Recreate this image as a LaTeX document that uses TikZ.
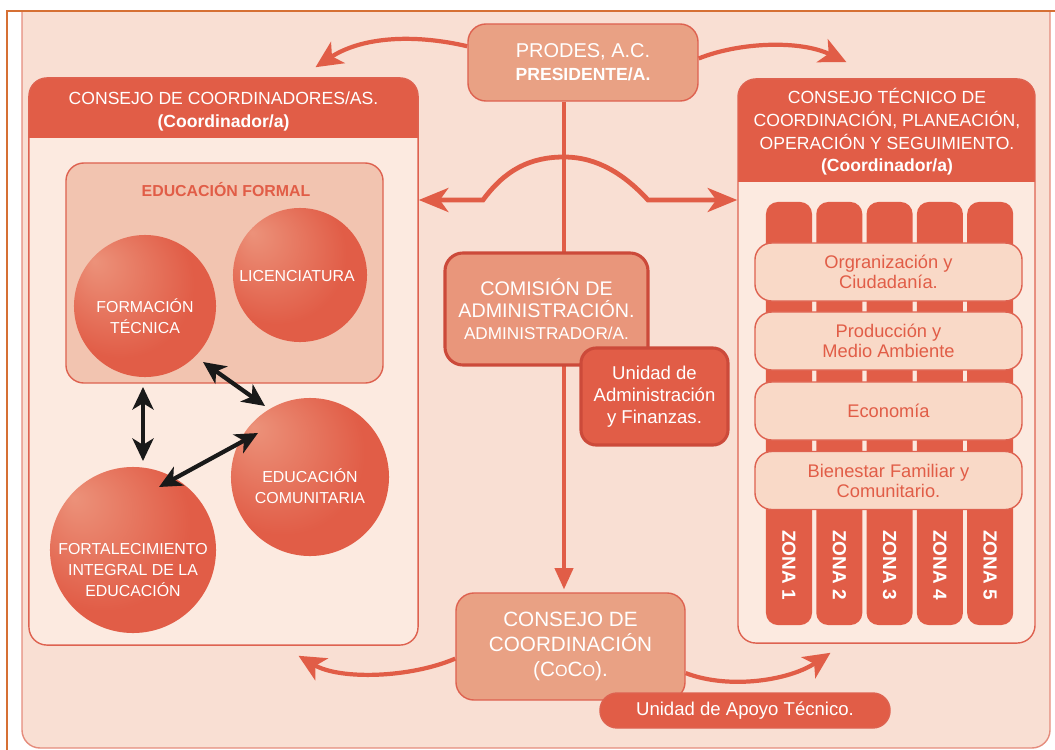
\documentclass[tikz,border=0pt]{standalone}
\usepackage{fontspec}
\setmainfont{Liberation Sans}
\usepackage{tikz}
\usetikzlibrary{calc,positioning,arrows.meta}

\definecolor{frame}{RGB}{214,112,52}
\definecolor{peach}{RGB}{249,223,211}
\definecolor{pinkline}{RGB}{229,140,124}
\definecolor{body}{RGB}{252,234,224}
\definecolor{redor}{RGB}{225,93,71}
\definecolor{salm}{RGB}{233,161,132}
\definecolor{comis}{RGB}{233,150,123}
\definecolor{formal}{RGB}{242,196,176}
\definecolor{barfill}{RGB}{249,217,199}
\definecolor{edge}{RGB}{222,98,80}
\definecolor{dkedge}{RGB}{204,74,58}
\definecolor{sphhi}{RGB}{236,146,122}

\pgfdeclareradialshading{sphere}{\pgfpoint{-18bp}{16bp}}{color(0bp)=(sphhi); color(26bp)=(redor); color(50bp)=(redor)}

\newcommand{\fs}[2]{\fontsize{#1}{#2}\selectfont}

\begin{document}
\begin{tikzpicture}[x=0.025cm, y=-0.025cm]
\tikzstyle{box}=[draw=edge, line width=1pt, fill=salm, rounded corners=0.45cm, text=white, align=center, inner sep=0pt]
\tikzstyle{boxdk}=[box, draw=dkedge, line width=2.2pt]
\tikzstyle{hdr}=[text=white, align=center, inner sep=0pt, font=\fs{12.5}{16.2}]
\tikzstyle{bar}=[draw=edge, line width=1pt, fill=barfill, rounded corners=0.42cm, text=redor, align=center, minimum width=6.675cm, minimum height=1.45cm, inner sep=0pt, font=\fs{13}{14.2}]
\tikzstyle{zone}=[fill=redor, rounded corners=0.3cm, minimum width=1.15cm, minimum height=10.575cm, inner sep=0pt]
\tikzstyle{zlbl}=[text=white, rotate=-90, font=\fs{13.5}{16}\bfseries, inner sep=0pt]
\tikzstyle{sph}=[circle, shading=sphere, inner sep=0pt]
\tikzstyle{ctxt}=[text=white, align=center, inner sep=0pt, font=\fs{11.3}{15.2}]
\tikzstyle{dbl}=[line width=3pt, black!90, >={Stealth[length=16pt,width=15pt,inset=4.5pt]}, <->]
\tikzstyle{curv}=[line width=3pt, redor, >={Stealth[length=19pt,width=18pt,inset=5pt]}, ->]
\tikzstyle{hump}=[line width=3.4pt, redor, >={Stealth[length=21pt,width=17pt,inset=6pt]}, <->]
\tikzstyle{spine}=[line width=2.2pt, redor, >={Triangle[length=15pt,width=13pt]}, ->]
\tikzset{panel/.style={draw=edge, line width=1pt, fill=body, rounded corners=0.45cm, inner sep=0pt,
  path picture={\fill[redor, sharp corners] (path picture bounding box.north west) rectangle ([yshift=-#1]path picture bounding box.north east);}}}

\useasboundingbox (0,0) rectangle (1055,750);
% background sheet
\begin{scope}
\clip (0,11) rectangle (1055,750);
\filldraw[fill=peach, draw=pinkline, line width=1pt, rounded corners=0.45cm] (22,-30) rectangle (1050,748);
\end{scope}
\draw[frame, line width=1.2pt] (7,770) -- (7,11) -- (1070,11);

% main boxes
\node[box, minimum width=5.75cm, minimum height=1.925cm, font=\fs{14.2}{16.4}] (prodes) at (583,62.5)
  {PRODES, A.C.\\\fs{12.5}{16.4}\bfseries PRESIDENTE/A.};
\node[panel=1.5cm, minimum width=9.725cm, minimum height=14.175cm] (cdc) at (223.5,361.5) {};
\node[panel=2.575cm, minimum width=7.425cm, minimum height=14.1cm] (ctc) at (886.5,361) {};
\node[box, minimum width=5.725cm, minimum height=2.675cm, font=\fs{14.7}{17.8}] (coco) at (570.5,646.5)
  {CONSEJO DE\\COORDINACIÓN\\(C{\fs{11.5}{17.8}O}C{\fs{11.5}{17.8}O}).};
\node[box, fill=redor, rounded corners=0.43cm, minimum width=7.25cm, minimum height=0.875cm, font=\fs{13.2}{15}] (apoyo) at (745,710.5) {Unidad de Apoyo Técnico.};

% spine and hump
\draw[spine] ($(prodes.south)+(-19,0)$) -- ($(coco.north)+(-6.5,-3)$);
\draw[hump] (cdc.east |- 0,200) -- (483,200) .. controls (505,170) and (530,157) .. (564,157)
  .. controls (598,157) and (625,175) .. (648,200) -- (ctc.west |- 0,200);

\node[boxdk, fill=comis, minimum width=5.075cm, minimum height=2.8cm, font=\fs{14}{15.6}] (comision) at (546.5,309)
  {COMISIÓN DE\\ADMINISTRACIÓN.\\\fs{12.2}{15.6}ADMINISTRADOR/A.};
\node[boxdk, fill=redor, rounded corners=0.38cm, minimum width=3.675cm, minimum height=2.425cm, font=\fs{13.2}{15.6}] (unidad) at (654.5,396.5)
  {Unidad de\\Administración\\y Finanzas.};

% left panel
\node[hdr] (cdc-t) at (223.5,111.5) {CONSEJO DE COORDINADORES/AS.\\\bfseries (Coordinador/a)};
\node[box, fill=formal, minimum width=7.925cm, minimum height=5.5cm] (formal) at (224.5,273) {};
\node[text=redor, font=\fs{11.3}{14}\bfseries, inner sep=0pt] (formal-t) at (226,190) {EDUCACIÓN FORMAL};
\node[sph, minimum size=3.35cm] (lic) at (300,275) {};
\node[sph, minimum size=3.55cm] (ftec) at (145,306) {};
\node[sph, minimum size=3.95cm] (ecom) at (310,477) {};
\node[sph, minimum size=4.15cm] (fie) at (133,550) {};
\node[ctxt] (lic-t) at (297,276) {LICENCIATURA};
\node[ctxt] (ftec-t) at (145,316) {FORMACIÓN\\TÉCNICA};
\node[ctxt] (ecom-t) at (310,486) {EDUCACIÓN\\COMUNITARIA};
\node[ctxt] (fie-t) at (133,570) {FORTALECIMIENTO\\INTEGRAL DE LA\\EDUCACIÓN};
\draw[dbl] ($(ftec)+(-2,81)$) -- ($(fie)+(10,-89)$);
\draw[dbl] ($(ftec)+(58,56)$) -- ($(ecom)+(-45,-71)$);
\draw[dbl] ($(ecom)+(-52,-44)$) -- ($(fie)+(26,-63)$);

% right panel
\node[hdr] (ctc-t) at (887,132) {CONSEJO TÉCNICO DE\\COORDINACIÓN, PLANEACIÓN,\\OPERACIÓN Y SEGUIMIENTO.\\\bfseries (Coordinador/a)};
\foreach \i in {1,...,5}
  \node[zone] (z\i) at ({789+50.3*(\i-1)},413.5) {};
\node[bar] (b1) at (888.5,272) {Orgranización y\\Ciudadanía.};
\node[bar] (b2) at (888.5,341) {Producción y\\Medio Ambiente};
\node[bar] (b3) at (888.5,411) {Economía};
\node[bar] (b4) at (888.5,480.5) {Bienestar Familiar y\\Comunitario.};
\foreach \i in {1,...,5}
  \node[zlbl] (zl\i) at ({789+50.3*(\i-1)},565) {ZONA \i};

% curved arrows
\draw[curv] (prodes.172) .. controls (410,33) and (360,38) .. ($(cdc.north)+(92,-10)$);
\draw[curv] (prodes.2) .. controls (740,42) and (800,40) .. ($(ctc.north)+(-40,-16)$);
\draw[curv] (coco.186) .. controls (410,678) and (340,680) .. ($(cdc.south)+(75,10)$);
\draw[curv] (coco.-13) .. controls (730,690) and (790,680) .. ($(ctc.south)+(-56,9)$);
\end{tikzpicture}
\end{document}
